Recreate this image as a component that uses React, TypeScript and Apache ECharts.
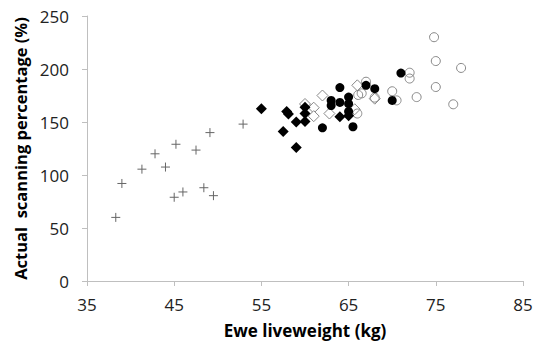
import React, { useEffect, useRef } from "react";
import * as echarts from "echarts";

// Crosses (+)
const crossX = [38.3, 39.0, 41.3, 42.8, 44.0, 45.2, 47.5, 49.1, 45.0, 46.0, 48.4, 49.5, 52.9];
const crossY = [60, 92, 105.5, 120, 107.5, 129, 123.5, 140, 79, 84, 88, 80.5, 148];

// Filled diamonds
const fDiaX = [55.0, 57.9, 58.1, 57.5, 59.0, 60.0, 60.0, 60.0, 59.0, 64.0, 65.0];
const fDiaY = [162.5, 160, 157.5, 141, 150, 150.5, 164, 158, 126, 155, 156];

// Open diamonds
const oDiaX = [60.0, 61.0, 61.0, 62.0, 62.8, 65.7, 66.0, 68.0];
const oDiaY = [167, 163.5, 155.5, 175, 158, 162, 184.6, 172];

// Filled circles
const fCirX = [62.0, 63.0, 63.0, 64.0, 64.0, 65.0, 65.0, 65.0, 65.5, 67.0, 68.0, 70.0, 71.0];
const fCirY = [144.5, 170.4, 165.5, 182.5, 168.5, 173.5, 167.3, 160, 145.5, 184.6, 181.4, 170.4, 196.2];

// Open circles
const oCirX = [66.0, 66.1, 66.5, 67.0, 68.0, 70.0, 70.5, 72.0, 72.0, 72.8, 75.0, 75.0, 74.8, 77.9, 77.0];
const oCirY = [158, 175.5, 177, 188, 173, 179, 170.4, 196.5, 191, 173.5, 183, 207.5, 230, 201, 166.7];

const xTicks = [35, 45, 55, 65, 75, 85];
const yTicks = [0, 50, 100, 150, 200, 250];

const zip = (xs: number[], ys: number[]) => xs.map((x, i) => [x, ys[i]]);

export default function App() {
  const ref = useRef<HTMLDivElement>(null);
  useEffect(() => {
    if (!ref.current) return;
    const chart = echarts.init(ref.current, null, { renderer: "svg" });
    const font = "'Open Sans', sans-serif";
    chart.setOption({
      animation: false,
      backgroundColor: "#fff",
      grid: { left: 87, right: 22, top: 16, bottom: 66 },
      xAxis: {
        type: "value",
        min: xTicks[0],
        max: xTicks[xTicks.length - 1],
        interval: 10,
        name: "Ewe liveweight (kg)",
        nameLocation: "middle",
        nameGap: 41,
        nameTextStyle: { fontFamily: font, fontWeight: "bold", fontSize: 17, color: "#000" },
        axisLine: { show: true, lineStyle: { color: "#bfbfbf", width: 1 } },
        axisTick: { show: true, inside: false, length: 5, lineStyle: { color: "#bfbfbf" } },
        axisLabel: { fontFamily: font, fontSize: 17, color: "#222", margin: 15 },
        splitLine: { show: false },
      },
      yAxis: {
        type: "value",
        min: yTicks[0],
        max: yTicks[yTicks.length - 1],
        interval: 50,
        name: "Actual  scanning percentage (%)",
        nameLocation: "middle",
        nameGap: 51,
        nameTextStyle: { fontFamily: font, fontWeight: "bold", fontSize: 16.5, color: "#000" },
        axisLine: { show: true, lineStyle: { color: "#bfbfbf", width: 1 } },
        axisTick: { show: true, inside: false, length: 5, lineStyle: { color: "#bfbfbf" } },
        axisLabel: { fontFamily: font, fontSize: 17, color: "#222", margin: 18 },
        splitLine: { show: false },
      },
      series: [
        {
          type: "scatter",
          data: zip(crossX, crossY),
          symbol: "path://M0,5L10,5M5,0L5,10",
          symbolSize: 9,
          itemStyle: { color: "none", borderColor: "#666", borderWidth: 1, opacity: 1 },
        },
        {
          type: "scatter",
          data: zip(oDiaX, oDiaY),
          symbol: "diamond",
          symbolSize: 11,
          itemStyle: { color: "#fff", borderColor: "#888", borderWidth: 1, opacity: 1 },
        },
        {
          type: "scatter",
          data: zip(oCirX, oCirY),
          symbol: "circle",
          symbolSize: 9,
          itemStyle: { color: "rgba(255,255,255,0)", borderColor: "#888", borderWidth: 1, opacity: 1 },
        },
        {
          type: "scatter",
          data: zip(fDiaX, fDiaY),
          symbol: "diamond",
          symbolSize: 11,
          itemStyle: { color: "#000", opacity: 1 },
        },
        {
          type: "scatter",
          data: zip(fCirX, fCirY),
          symbol: "circle",
          symbolSize: 9,
          itemStyle: { color: "#000", opacity: 1 },
        },
      ],
    });
    return () => chart.dispose();
  }, []);
  return (
    <div
      ref={ref}
      style={{ position: "fixed", left: 0, top: 0, width: 545, height: 347, background: "#fff" }}
    />
  );
}
